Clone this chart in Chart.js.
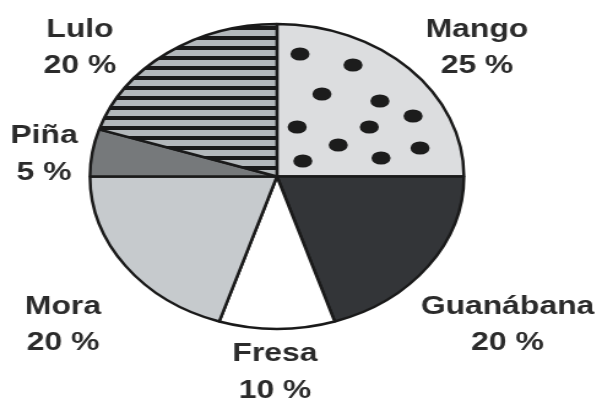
<!DOCTYPE html>
<html>
<head>
<meta charset="utf-8">
<script src="https://cdn.jsdelivr.net/npm/chart.js@4/dist/chart.umd.min.js"></script>
<style>
  html, body { margin: 0; padding: 0; background: #fff; overflow: hidden; }
  #wrap { width: 602px; height: 402px; overflow: hidden; }
  /* the printed pie is an ellipse, so the whole canvas is widened */
  #pie { display: block; transform: scaleX(1.226); transform-origin: 0 0; }
</style>
</head>
<body>
<div id="wrap"><canvas id="pie" width="491" height="402"></canvas></div>
<script>
'use strict'

// shares per fruit, clockwise from 12 o'clock
const frutas = ['Mango', 'Guanábana', 'Fresa', 'Mora', 'Piña', 'Lulo'];
const porcentajes = [25, 20, 10, 20, 5, 20];

const stretch = 1.226;

// where each name/percent pair sits (page pixels: centre x, first baseline)
const labelAnchors = [
  [477, 36.5],
  [507.5, 313.5],
  [275, 361],
  [63, 313.5],
  [44, 143],
  [80, 36.5]
];

// scattered dots of the Mango texture, in tile pixels
const mangoDots = [
  [19.7, 34], [62.9, 45], [37.6, 74], [84.9, 81], [111.9, 96], [17.4, 107],
  [76.2, 107], [50.9, 125], [117.6, 128], [22.0, 141], [85.8, 138]
];

const canvas = document.getElementById('pie');
const ctx = canvas.getContext('2d');

// dotted fill for Mango
function dotPattern(){
  let tile = document.createElement('canvas');
  tile.width = 160;
  tile.height = 160;
  let t = tile.getContext('2d');
  t.fillStyle = '#dcdddf';
  t.fillRect(0, 0, 160, 160);
  t.fillStyle = '#1c1c1c';
  mangoDots.forEach(function(d){
    t.beginPath();
    t.ellipse(d[0], d[1], 7.8, 6.6, 0, 0, Math.PI * 2);
    t.fill();
  });
  let p = ctx.createPattern(tile, 'repeat');
  p.setTransform(new DOMMatrix().translate(225, 20));
  return p;
}

// horizontal stripes for Lulo
function stripePattern(){
  let tile = document.createElement('canvas');
  tile.width = 4;
  tile.height = 10;
  let t = tile.getContext('2d');
  t.fillStyle = '#b3b8bb';
  t.fillRect(0, 0, 4, 10);
  t.fillStyle = '#1a1a1a';
  t.fillRect(0, 6, 4, 4);
  return ctx.createPattern(tile, 'repeat');
}

const fills = [
  dotPattern(),
  '#333538',
  '#ffffff',
  '#c6cacd',
  '#76797b',
  stripePattern()
];

const labelPlugin = {
  id: 'fruitLabels',
  afterDraw(chart){
    let c = chart.ctx;
    c.save();
    c.font = 'bold 26px "Liberation Sans", Arial, sans-serif';
    c.fillStyle = '#2b2b2b';
    c.textAlign = 'center';
    c.textBaseline = 'alphabetic';
    frutas.forEach(function(name, i){
      let x = labelAnchors[i][0] / stretch;
      let y = labelAnchors[i][1];
      c.fillText(name, x, y);
      c.fillText(porcentajes[i] + ' %', x, y + 36.5);
    });
    c.restore();
  }
};

// centre (226, 176.5), radius about 152 px including the outline
const data = {
  labels: frutas,
  datasets: [{
    data: porcentajes,
    backgroundColor: fills,
    borderColor: '#1a1a1a',
    borderWidth: 2.5
  }]
};

const config = {
  type: 'pie',
  data: data,
  options: {
    responsive: false,
    animation: false,
    events: [],
    layout: {
      padding: { top: 22.75, left: 72.15, right: 111.35, bottom: 71.75 }
    },
    plugins: {
      legend: { display: false },
      tooltip: { enabled: false }
    }
  },
  plugins: [labelPlugin]
};

const myChart = new Chart(canvas, config);
</script>
</body>
</html>
